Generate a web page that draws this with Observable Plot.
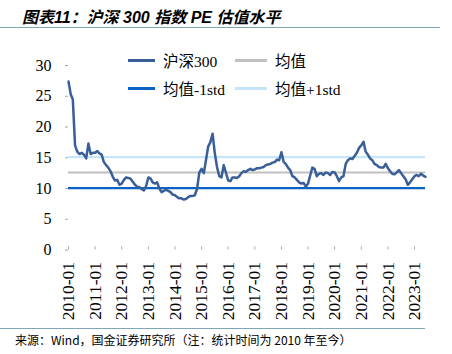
<!DOCTYPE html>
<html>
<head>
<meta charset="utf-8">
<script src="https://cdn.jsdelivr.net/npm/d3@7"></script>
<script src="https://cdn.jsdelivr.net/npm/@observablehq/plot@0.6"></script>
<style>
  html, body { margin: 0; padding: 0; background: #fff; }
  #wrap { position: relative; width: 452px; height: 354px; overflow: hidden; background: #fff; }
  #title { position: absolute; left: 22px; top: 4px; font-family: "Liberation Sans", "Noto Sans CJK SC", sans-serif; font-weight: bold; font-style: italic; font-size: 16px; color: #000; white-space: nowrap; }
  #tline { position: absolute; left: 0; top: 27px; width: 440px; height: 0; border-top: 1.5px solid #7fa7b5; }
  #chart { position: absolute; left: 0; top: 30px; }
  #chart svg text { font-family: "Liberation Serif", "Times New Roman", serif !important; }
  #chart svg g.yax text { font-size: 16px !important; }
  #chart svg g.xax text { font-size: 17.5px !important; }
  #legend { position: absolute; left: 0; top: 0; font-family: "Liberation Serif", "Noto Sans CJK SC", serif; font-size: 15.5px; color: #000; }
  .item { position: absolute; white-space: nowrap; display: flex; align-items: center; }
  .sw { display: inline-block; height: 3px; margin-right: 8px; }
  #fline { position: absolute; left: 0; top: 328px; width: 425px; height: 0; border-top: 1.5px solid #7fa7b5; }
  #footer { position: absolute; left: 15px; top: 331px; font-family: "Noto Sans CJK SC", "Liberation Sans", sans-serif; font-size: 12px; color: #000; white-space: nowrap; }
</style>
</head>
<body>
<div id="wrap">
  <div id="title">图表11：沪深 300 指数 PE 估值水平</div>
  <div id="tline"></div>
  <div id="chart"></div>
  <div id="legend"></div>
  <div id="fline"></div>
  <div id="footer">来源：Wind，国金证券研究所（注：统计时间为 2010 年至今）</div>
</div>
<script>
// ---- data ----
const startMonth = "2010-01";
const pe2010 = [27.4, 25.3, 24.5, 17.0, 16.0, 15.6, 15.8, 15.5, 14.9, 17.3, 15.6, 15.8];
const pe2011 = [15.8, 16.1, 15.7, 15.5, 14.3, 13.8, 13.4, 12.8, 11.9, 11.3, 11.4, 10.6];
const pe2012 = [10.8, 11.4, 11.8, 11.7, 11.6, 11.1, 10.6, 10.3, 10.2, 9.9, 9.7, 10.4];
const pe2013 = [11.8, 11.6, 11.0, 10.8, 11.0, 10.0, 9.4, 9.6, 9.8, 9.6, 9.4, 9.0];
const pe2014 = [8.9, 8.6, 8.4, 8.4, 8.2, 8.3, 8.6, 8.8, 8.8, 8.9, 10.0, 12.6];
const pe2015 = [13.2, 12.5, 14.5, 16.8, 17.5, 18.9, 15.8, 13.5, 12.0, 11.8, 13.8, 12.6];
const pe2016 = [11.3, 11.2, 11.8, 11.8, 11.7, 12.0, 12.5, 12.8, 12.7, 13.0, 13.2, 13.0];
const pe2017 = [13.1, 13.3, 13.3, 13.4, 13.5, 13.8, 13.9, 14.0, 14.2, 14.3, 14.7, 14.6];
const pe2018 = [15.9, 14.3, 14.0, 13.4, 13.0, 12.0, 11.8, 11.4, 11.0, 10.8, 10.9, 10.3];
const pe2019 = [10.8, 12.2, 13.4, 13.2, 12.0, 12.4, 12.5, 12.2, 12.6, 12.5, 12.2, 12.7];
const pe2020 = [12.6, 12.0, 11.2, 11.8, 12.0, 14.0, 14.6, 14.9, 14.8, 15.3, 15.8, 16.6];
const pe2021 = [17.0, 17.6, 16.0, 15.5, 14.9, 14.6, 14.0, 13.8, 13.5, 13.4, 13.4, 14.0];
const pe2022 = [13.3, 12.8, 12.4, 12.3, 12.6, 13.0, 12.5, 12.0, 11.5, 10.6, 11.0, 11.5];
const pe2023 = [12.0, 12.2, 12.0, 12.4, 12.1, 11.9];
const meanValue = [12.6];
const minus1std = [10.05];
const plus1std = [15.1];
const yTicks = [0, 5, 10, 15, 20, 25, 30];
const xTickYears = [2010, 2011, 2012, 2013, 2014, 2015, 2016, 2017, 2018, 2019, 2020, 2021, 2022, 2023];
const seriesNames = ["沪深300", "均值", "均值-1std", "均值+1std"];
const colors = ["#3a5f98", "#c0c0c0", "#0a62c4", "#c5e6f8"];

// ---- build table ----
const allPE = [].concat(pe2010, pe2011, pe2012, pe2013, pe2014, pe2015, pe2016, pe2017, pe2018, pe2019, pe2020, pe2021, pe2022, pe2023);
const start = d3.utcParse("%Y-%m")(startMonth);
const data = allPE.map((v, i) => ({date: d3.utcMonth.offset(start, i), pe: v}));
const xTicks = xTickYears.map(y => new Date(Date.UTC(y, 0, 1)));
const endDate = data[data.length - 1].date;

const chart = Plot.plot({
  width: 452,
  height: 296,
  marginLeft: 68,
  marginRight: 27,
  marginTop: 35,
  marginBottom: 76.5,
  style: {fontFamily: "'Liberation Serif', serif", fontSize: "16px", color: "#000", background: "transparent", overflow: "visible"},
  x: {type: "utc", domain: [start, endDate]},
  y: {domain: [0, 30]},
  marks: [
    Plot.ruleY(plus1std, {stroke: colors[3], strokeWidth: 2.2}),
    Plot.ruleY(meanValue, {stroke: colors[1], strokeWidth: 2.2}),
    Plot.ruleY(minus1std, {stroke: colors[2], strokeWidth: 2.2}),
    Plot.lineY(data, {x: "date", y: "pe", stroke: colors[0], strokeWidth: 2.5}),
    Plot.axisY({ticks: yTicks, tickSize: 3, tickPadding: 14, line: true, stroke: "#a6a6a6", fill: "#000", label: null, fontSize: 16, fontFamily: "Liberation Serif", className: "yax"}),
    Plot.axisX({ticks: xTicks, tickSize: 0, tickPadding: 12, tickRotate: -90, tickFormat: d3.utcFormat("%Y-%m"), line: true, stroke: "#a6a6a6", fill: "#000", label: null, fontSize: 17.5, fontFamily: "Liberation Serif", className: "xax"}),
    Plot.ruleX(xTicks, {x: d => d, y1: 0, y2: 0.5, stroke: "#a6a6a6"})
  ]
});
document.getElementById("chart").appendChild(chart);

// ---- legend ----
const legendPos = [
  {x: 128, y: 60, w: 27}, {x: 235, y: 60, w: 32},
  {x: 128, y: 88, w: 27}, {x: 235, y: 88, w: 32}
];
const legend = document.getElementById("legend");
seriesNames.forEach((name, i) => {
  const p = legendPos[i];
  const el = document.createElement("div");
  el.className = "item";
  el.style.left = p.x + "px";
  el.style.top = (p.y - 11) + "px";
  el.style.height = "22px";
  el.innerHTML = `<span class="sw" style="width:${p.w}px;background:${colors[i]}"></span><span>${name}</span>`;
  legend.appendChild(el);
});
</script>
</body>
</html>
